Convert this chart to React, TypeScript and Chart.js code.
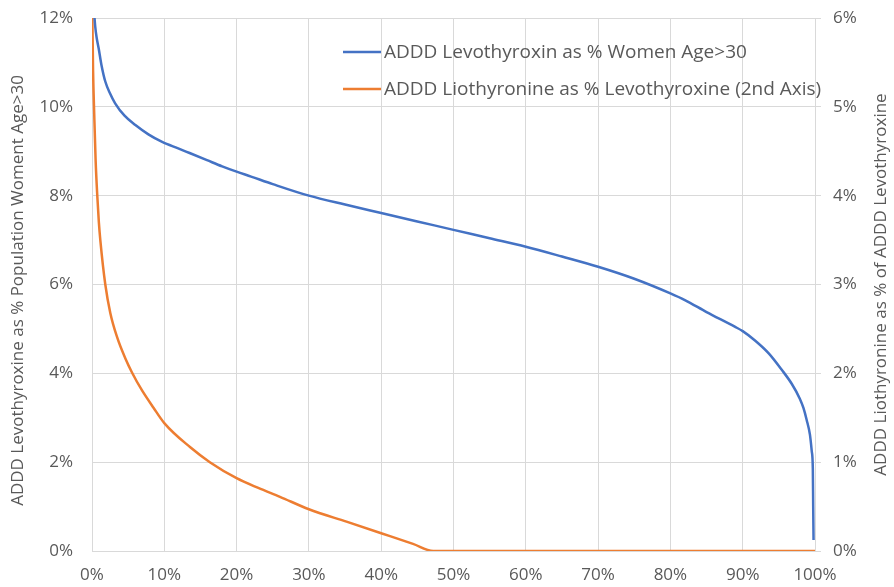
import React, { useEffect, useRef } from "react";
import { Chart, registerables } from "chart.js";

Chart.register(...registerables);

// Blue series: ADDD Levothyroxin as % Women Age>30 (left axis, %)
const levoX = [0.3, 0.45, 0.65, 0.92, 1.3, 1.84, 2.5, 3.2, 4.5, 6.0, 7.8, 9.7, 12, 13.5, 15.9, 18, 20, 22, 25, 30, 35, 40, 45, 50, 55, 60, 65, 70, 75, 80, 82, 85, 88.9, 90, 91.7, 93.6, 95.4, 96.8, 97.9, 98.4, 98.85, 99.3, 99.55, 99.7, 99.75, 99.8];
const levoY = [12.1, 11.8, 11.55, 11.32, 10.95, 10.57, 10.3, 10.08, 9.8, 9.59, 9.38, 9.21, 9.06, 8.96, 8.8, 8.66, 8.54, 8.43, 8.26, 8.0, 7.8, 7.61, 7.42, 7.23, 7.04, 6.85, 6.63, 6.4, 6.13, 5.8, 5.65, 5.38, 5.05, 4.95, 4.74, 4.45, 4.08, 3.76, 3.43, 3.22, 2.95, 2.62, 2.25, 1.85, 1.0, 0.25];

// Orange series: ADDD Liothyronine as % Levothyroxine (right axis, %)
const lioX = [0, 0.05, 0.15, 0.31, 0.5, 0.73, 0.95, 1.15, 1.84, 2.53, 3.46, 4.6, 5.53, 6.9, 8.53, 10, 13.55, 16.3, 20, 23, 26, 30, 35.2, 40, 44.4, 47.2, 60, 80, 100];
const lioY = [6.6, 6.0, 5.4, 4.91, 4.4, 4.0, 3.7, 3.5, 3.0, 2.68, 2.41, 2.17, 2.01, 1.81, 1.61, 1.44, 1.17, 1.0, 0.82, 0.71, 0.61, 0.47, 0.33, 0.2, 0.08, 0, 0, 0, 0];

const seriesNames = [
  "ADDD Levothyroxin as % Women Age>30",
  "ADDD Liothyronine as % Levothyroxine (2nd Axis)",
];
const leftTitle = "ADDD Levothyroxine as % Population Woment Age>30";
const rightTitle = "ADDD Liothyronine as % of ADDD Levothyroxine";

const BLUE = "#4472C4";
const ORANGE = "#ED7D31";
const GRID = "#d9d9d9";
const TEXT = "#595959";
const FONT = "'Open Sans', 'Noto Sans', sans-serif";

export default function App() {
  const ref = useRef<HTMLCanvasElement | null>(null);

  useEffect(() => {
    document.body.style.margin = "0";
    const canvas = ref.current!;
    const overlay = {
      id: "overlay",
      afterDraw(chart: any) {
        const ctx = chart.ctx;
        const area = chart.chartArea;
        ctx.save();
        ctx.fillStyle = TEXT;
        ctx.font = `17px ${FONT}`;
        ctx.textAlign = "center";
        ctx.textBaseline = "middle";
        const cy = (area.top + area.bottom) / 2;
        ctx.save();
        ctx.translate(18, cy + 6);
        ctx.rotate(-Math.PI / 2);
        ctx.fillText(leftTitle, 0, 0);
        ctx.restore();
        ctx.save();
        ctx.translate(881, cy);
        ctx.rotate(-Math.PI / 2);
        ctx.fillText(rightTitle, 0, 0);
        ctx.restore();
        const items = [
          { label: seriesNames[0], color: BLUE, y: 52 },
          { label: seriesNames[1], color: ORANGE, y: 89 },
        ];
        ctx.font = `19px ${FONT}`;
        ctx.textAlign = "left";
        for (const it of items) {
          ctx.strokeStyle = it.color;
          ctx.lineWidth = 2.5;
          ctx.beginPath();
          ctx.moveTo(343, it.y);
          ctx.lineTo(381, it.y);
          ctx.stroke();
          ctx.fillStyle = TEXT;
          ctx.fillText(it.label, 384, it.y + 1);
        }
        ctx.restore();
      },
    };

    const noPad = (s: any) => {
      s.paddingTop = 0;
      s.paddingBottom = 0;
    };

    const chart = new Chart(canvas, {
      type: "line",
      data: {
        datasets: [
          {
            label: seriesNames[0],
            data: levoX.map((x, i) => ({ x, y: levoY[i] })),
            borderColor: BLUE,
            backgroundColor: BLUE,
            borderWidth: 2.5,
            pointRadius: 0,
            cubicInterpolationMode: "monotone",
            yAxisID: "y",
          },
          {
            label: seriesNames[1],
            data: lioX.map((x, i) => ({ x, y: lioY[i] })),
            borderColor: ORANGE,
            backgroundColor: ORANGE,
            borderWidth: 2.5,
            pointRadius: 0,
            cubicInterpolationMode: "monotone",
            yAxisID: "y2",
          },
        ],
      },
      options: {
        animation: false,
        responsive: false,
        devicePixelRatio: 1,
        layout: { padding: { top: 18, left: 0, right: 0, bottom: 0 } },
        plugins: {
          legend: { display: false },
          tooltip: { enabled: false },
        },
        scales: {
          x: {
            type: "linear",
            min: 0,
            max: 100,
            ticks: {
              stepSize: 10,
              callback: (v: any) => v + "%",
              color: TEXT,
              font: { size: 17, family: FONT },
              padding: 14,
              maxRotation: 0,
            },
            grid: { color: GRID, drawTicks: false, lineWidth: 1 },
            border: { color: GRID },
            afterFit: (s: any) => {
              s.height = 36;
            },
          },
          y: {
            type: "linear",
            position: "left",
            min: 0,
            max: 12,
            ticks: {
              stepSize: 2,
              callback: (v: any) => v + "%",
              color: TEXT,
              font: { size: 17, family: FONT },
              padding: 19,
            },
            grid: { color: GRID, drawTicks: false },
            border: { color: GRID },
            afterFit: (s: any) => {
              s.width = 92;
              noPad(s);
            },
          },
          y2: {
            type: "linear",
            position: "right",
            min: 0,
            max: 6,
            ticks: {
              stepSize: 1,
              callback: (v: any) => v + "%",
              color: TEXT,
              font: { size: 17, family: FONT },
              padding: 12,
            },
            grid: { color: GRID, drawOnChartArea: false, drawTicks: true, tickLength: 6 },
            border: { color: GRID },
            afterFit: (s: any) => {
              s.width = 79;
              noPad(s);
            },
          },
        },
      },
      plugins: [overlay],
    } as any);
    return () => chart.destroy();
  }, []);

  return (
    <div style={{ position: "fixed", left: 0, top: 0, width: 894, height: 587, background: "#fff" }}>
      <canvas ref={ref} width={894} height={587} style={{ width: 894, height: 587, display: "block" }} />
    </div>
  );
}
